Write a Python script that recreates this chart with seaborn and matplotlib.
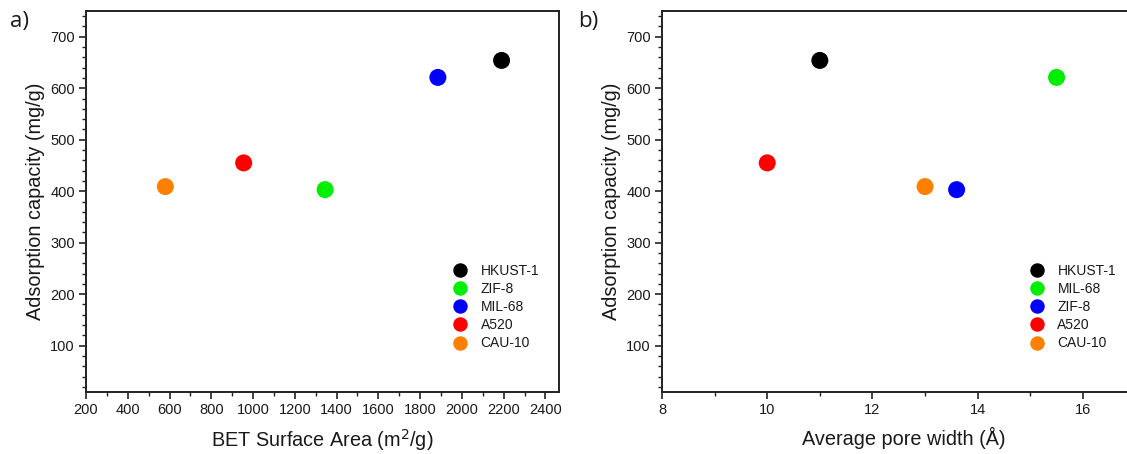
import matplotlib
matplotlib.use("Agg")
import matplotlib.pyplot as plt
from matplotlib.ticker import MultipleLocator
import seaborn as sns
import pandas as pd

# Adsorption data for the five MOF / adsorbent materials
materials = ["HKUST-1", "ZIF-8", "MIL-68", "A520", "CAU-10"]
bet_area = [2190, 1345, 1885, 955, 580]          # m2/g
pore_width = [11.0, 13.6, 15.5, 10.0, 13.0]      # Angstrom
capacity = [654, 403, 621, 455, 409]             # mg/g

# legend order / colours differ between the two panels
order_a = ["HKUST-1", "ZIF-8", "MIL-68", "A520", "CAU-10"]
colors_a = ["#000000", "#00ee00", "#0000ff", "#ff0000", "#ff8000"]
order_b = ["HKUST-1", "MIL-68", "ZIF-8", "A520", "CAU-10"]
colors_b = ["#000000", "#00ee00", "#0000ff", "#ff0000", "#ff8000"]

df = pd.DataFrame({"material": materials, "bet": bet_area,
                   "pore": pore_width, "cap": capacity})

sns.set_style("ticks")
plt.rcParams["font.family"] = ["Liberation Sans", "DejaVu Sans"]
plt.rcParams["axes.edgecolor"] = "#222222"
plt.rcParams["axes.linewidth"] = 1.4
plt.rcParams["xtick.color"] = "#222222"
plt.rcParams["ytick.color"] = "#222222"
plt.rcParams["xtick.labelcolor"] = "#1a1a1a"
plt.rcParams["ytick.labelcolor"] = "#1a1a1a"

W, H = 1127, 454
fig = plt.figure(figsize=(W / 100, H / 100), dpi=100)

ax_a = fig.add_axes([86 / W, 62 / H, 473 / W, 381 / H])
ax_b = fig.add_axes([662 / W, 62 / H, 484 / W, 381 / H])

label_font = dict(fontsize=14.3, color="#1a1a1a")


def style_axis(ax, xlim, xmaj, xmin):
    ax.set_ylim(10, 750)
    ax.set_xlim(*xlim)
    ax.yaxis.set_major_locator(MultipleLocator(100))
    ax.yaxis.set_minor_locator(MultipleLocator(20))
    ax.xaxis.set_major_locator(MultipleLocator(xmaj))
    ax.xaxis.set_minor_locator(MultipleLocator(xmin))
    ax.set_yticks([100, 200, 300, 400, 500, 600, 700])
    ax.tick_params(axis="both", which="major", direction="out", length=5,
                   width=1.2, labelsize=10.5, pad=3)
    ax.tick_params(axis="both", which="minor", direction="out", length=3,
                   width=1.0)
    ax.tick_params(top=False, right=False, which="both")
    for sp in ax.spines.values():
        sp.set_visible(True)
    ax.set_ylabel("Adsorption capacity (mg/g)", labelpad=4, **label_font)


def place_legend(ax, x_anchor):
    handles, labels = ax.get_legend_handles_labels()
    leg = ax.legend(handles, labels, loc="center left",
                    bbox_to_anchor=(x_anchor, 0.223), frameon=False,
                    borderaxespad=0, borderpad=0, handlelength=1.0,
                    handletextpad=0.95, labelspacing=0.3, fontsize=10,
                    markerscale=0.85, title=None)
    for t in leg.get_texts():
        t.set_color("#1a1a1a")


# Panel a: BET surface area
sns.scatterplot(data=df, x="bet", y="cap", hue="material", hue_order=order_a,
                palette=dict(zip(order_a, colors_a)), s=150, linewidth=0,
                ax=ax_a, zorder=3)
style_axis(ax_a, (200, 2465), 200, 100)
ax_a.set_xlabel("BET Surface Area (m$^2$/g)", labelpad=7, **label_font)
place_legend(ax_a, 0.777)

# Panel b: average pore width
sns.scatterplot(data=df, x="pore", y="cap", hue="material", hue_order=order_b,
                palette=dict(zip(order_b, colors_b)), s=150, linewidth=0,
                ax=ax_b, zorder=3)
style_axis(ax_b, (8, 17.2), 2, 1)
ax_b.set_xlabel("Average pore width (Å)", labelpad=7, **label_font)
place_legend(ax_b, 0.761)

fig.text(10 / W, 1 - 22 / H, "a)", fontsize=16, va="center", ha="left",
         family=["Open Sans", "DejaVu Sans"], color="#1a1a1a")
fig.text(578 / W, 1 - 22 / H, "b)", fontsize=16, va="center", ha="left",
         family=["Open Sans", "DejaVu Sans"], color="#1a1a1a")

fig.savefig("out.png", dpi=100)
